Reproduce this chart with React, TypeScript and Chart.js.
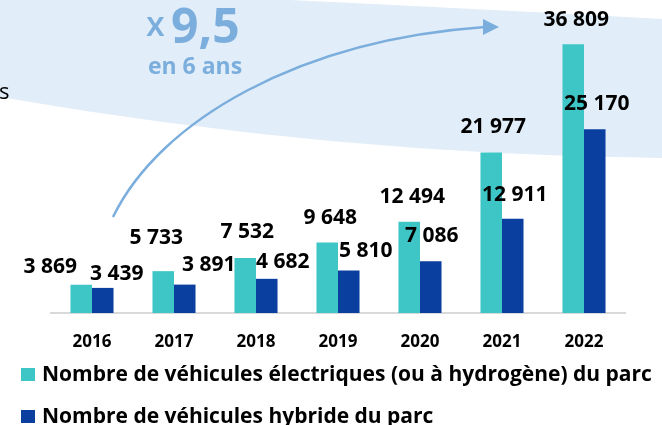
import React, { useEffect, useRef } from "react";
import { Chart, registerables } from "chart.js";

Chart.register(...registerables);

const years = ["2016", "2017", "2018", "2019", "2020", "2021", "2022"];
const electric = [3869, 5733, 7532, 9648, 12494, 21977, 36809];
const hybrid = [3439, 3891, 4682, 5810, 7086, 12911, 25170];
const seriesNames = [
  "Nombre de véhicules électriques (ou à hydrogène) du parc",
  "Nombre de véhicules hybride du parc",
];

// label nudges (px) relative to each bar's top-centre
const labelDx = [
  [-31, -7, 2, 3, 3, 2, 3],
  [14, 24, 16, 17, 1, 2, 2],
];
const labelDy = [
  [18, 33, 26, 25, 25, 26, 24],
  [14, 20, 17, 20, 25, 24, 25],
];

const TEAL = "#3EC6C7";
const BLUE = "#0A3FA0";
const LIGHT = "#7BAEDD";
const BAND = "#E1EDF8";
const FONT = "'Open Sans', 'DejaVu Sans', sans-serif";

const fmt = (v: number) => String(v).replace(/\B(?=(\d{3})+(?!\d))/g, " ");

const decorPlugin = {
  id: "decor",
  beforeDraw(chart: any) {
    const ctx = chart.ctx as CanvasRenderingContext2D;
    ctx.save();
    // background band
    ctx.fillStyle = BAND;
    ctx.beginPath();
    ctx.moveTo(0, 0);
    ctx.lineTo(290, 0);
    ctx.quadraticCurveTo(500, 10, 662, 19);
    ctx.lineTo(662, 158);
    ctx.quadraticCurveTo(331, 154.5, 0, 97);
    ctx.closePath();
    ctx.fill();
    // cropped text remnant
    ctx.fillStyle = "#000";
    ctx.font = `400 22px ${FONT}`;
    ctx.textAlign = "left";
    ctx.textBaseline = "alphabetic";
    ctx.fillText("s", -1, 99);
    // arrow
    ctx.strokeStyle = LIGHT;
    ctx.lineWidth = 2.5;
    ctx.beginPath();
    ctx.moveTo(113, 217);
    ctx.bezierCurveTo(160, 120, 300, 40, 485, 27);
    ctx.stroke();
    ctx.fillStyle = LIGHT;
    ctx.beginPath();
    ctx.moveTo(499, 27);
    ctx.lineTo(483, 19);
    ctx.lineTo(483, 35);
    ctx.closePath();
    ctx.fill();
    // annotation text
    ctx.fillStyle = LIGHT;
    ctx.font = `600 34px ${FONT}`;
    ctx.fillText("x", 146, 36);
    ctx.font = `700 48px ${FONT}`;
    ctx.fillText("9,5", 171, 43);
    ctx.font = `700 23px ${FONT}`;
    ctx.textAlign = "center";
    ctx.fillText("en 6 ans", 195, 74);
    ctx.restore();
  },
  afterDatasetsDraw(chart: any) {
    const ctx = chart.ctx as CanvasRenderingContext2D;
    ctx.save();
    ctx.fillStyle = "#000";
    ctx.font = `700 21px ${FONT}`;
    ctx.textAlign = "center";
    ctx.textBaseline = "middle";
    chart.data.datasets.forEach((ds: any, di: number) => {
      const meta = chart.getDatasetMeta(di);
      meta.data.forEach((bar: any, i: number) => {
        ctx.fillText(fmt(ds.data[i]), bar.x + labelDx[di][i], bar.y - labelDy[di][i]);
      });
    });
    // legend
    const rows = [374, 416];
    chart.data.datasets.forEach((ds: any, di: number) => {
      const y = rows[di];
      ctx.fillStyle = ds.backgroundColor;
      ctx.fillRect(21, y - 6, 14, 13);
      ctx.fillStyle = "#000";
      ctx.textAlign = "left";
      ctx.font = `700 21px ${FONT}`;
      ctx.fillText(ds.label, 42, y + 1);
    });
    ctx.restore();
  },
};

export default function App() {
  const ref = useRef<HTMLCanvasElement>(null);
  useEffect(() => {
    if (!ref.current) return;
    const chart = new Chart(ref.current, {
      type: "bar",
      data: {
        labels: years,
        datasets: [
          { label: seriesNames[0], data: electric, backgroundColor: TEAL },
          { label: seriesNames[1], data: hybrid, backgroundColor: BLUE },
        ],
      },
      options: {
        responsive: false,
        animation: false,
        devicePixelRatio: 1,
        layout: { padding: { left: 51, right: 37, top: 21, bottom: 0 } },
        datasets: { bar: { categoryPercentage: 0.525, barPercentage: 1 } },
        plugins: { legend: { display: false }, tooltip: { enabled: false } },
        scales: {
          x: {
            grid: { display: false, drawTicks: false },
            border: { display: true, color: "#D9D9D9", width: 2 },
            ticks: { color: "#000", font: { family: FONT, weight: "bold", size: 17 }, padding: 19 },
            afterFit: (s: any) => { s.height = 112; },
          },
          y: { display: false, min: 0, max: 40000 },
        },
      },
      plugins: [decorPlugin],
    });
    return () => chart.destroy();
  }, []);
  return (
    <div style={{ position: "absolute", left: 0, top: 0, width: 662, height: 425 }}>
      <canvas ref={ref} width={662} height={425} />
    </div>
  );
}
